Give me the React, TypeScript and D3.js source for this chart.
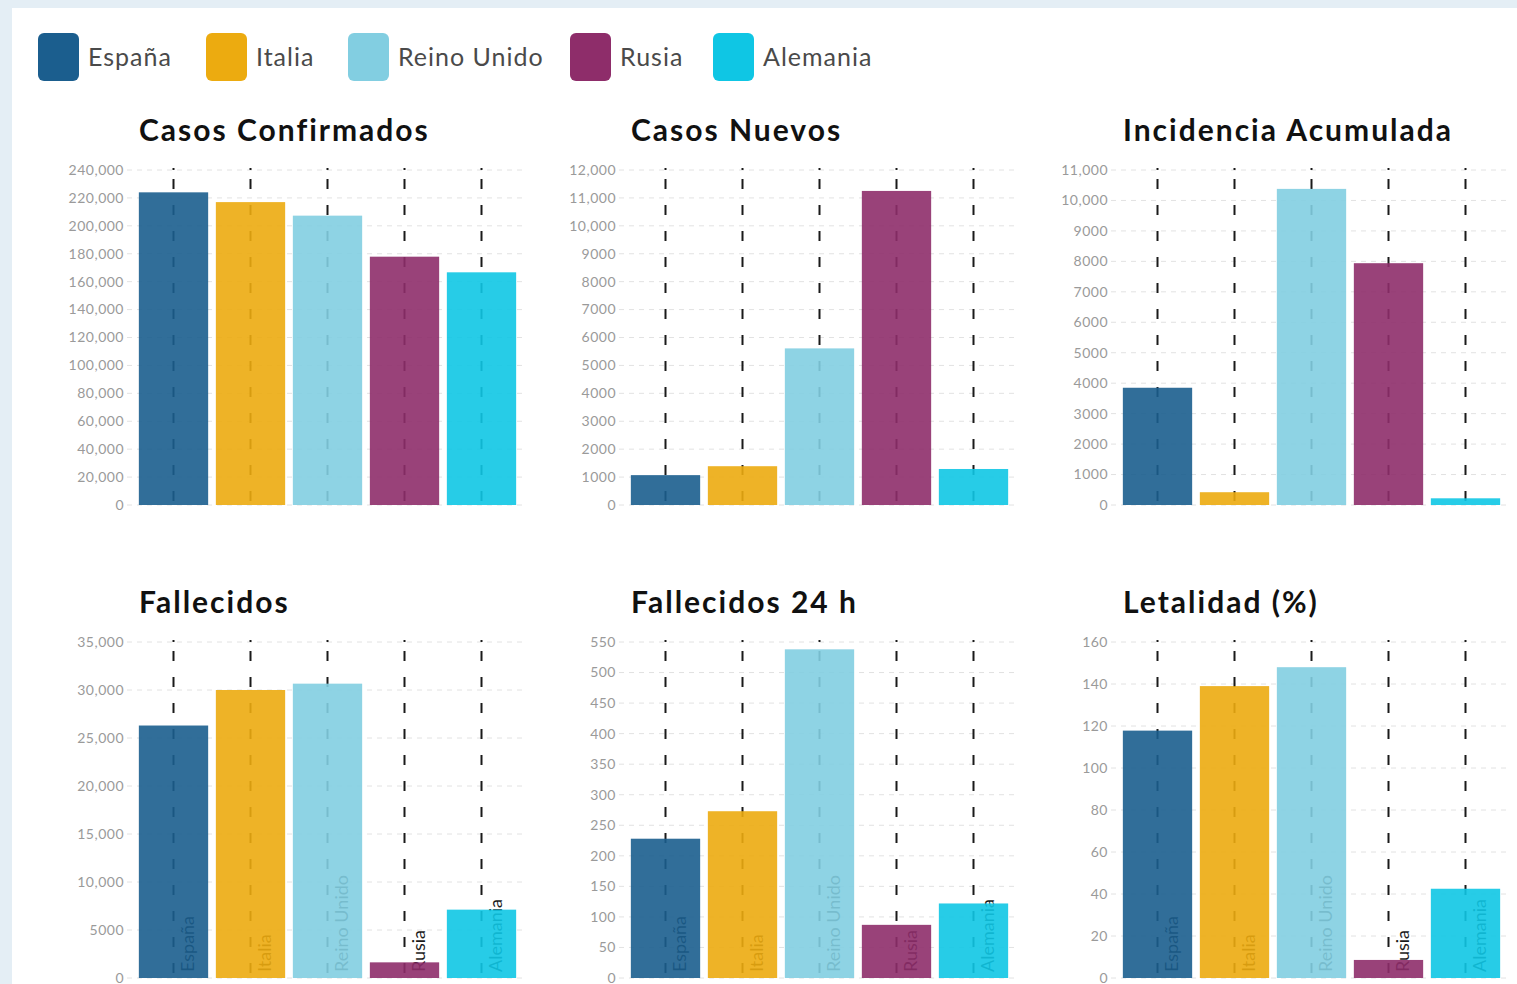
import React from "react";
import * as d3 from "d3";

const countries = ["España", "Italia", "Reino Unido", "Rusia", "Alemania"];
const colors = ["#1b5e8e", "#ecab10", "#82cee1", "#8e2d6a", "#0fc6e4"];

const titles = [
  "Casos Confirmados",
  "Casos Nuevos",
  "Incidencia Acumulada",
  "Fallecidos",
  "Fallecidos 24 h",
  "Letalidad (%)",
];

const casosConfirmados = [224000, 217000, 207300, 177900, 166700];
const casosNuevos = [1070, 1390, 5610, 11250, 1290];
const incidenciaAcumulada = [3850, 420, 10380, 7940, 220];
const fallecidos = [26300, 30000, 30660, 1630, 7120];
const fallecidos24h = [228, 273, 538, 87, 122];
const letalidad = [117.8, 139, 148, 8.6, 42.5];

const seriesList = [casosConfirmados, casosNuevos, incidenciaAcumulada, fallecidos, fallecidos24h, letalidad];
const axisMax = [240000, 12000, 11000, 35000, 550, 160];
const axisStep = [20000, 1000, 1000, 5000, 50, 20];

const W = 1517;
const H = 984;
const FONT = "Lato, 'Source Sans Pro', sans-serif";
const panelLeft = [135, 627, 1119];
const panelWidth = 385;
const rowTop = [170, 642];
const rowBottom = [505, 978];

// dot at the top, then regular dashes
const dashPattern = ["2", "9", ...Array(24).fill("10,16")].join(",");

const fmtTick = (v: number) => (v >= 10000 ? d3.format(",")(v) : String(v));

function Panel({ idx }: { idx: number }) {
  const row = Math.floor(idx / 3);
  const col = idx % 3;
  const x0 = panelLeft[col];
  const values = seriesList[idx];
  const x = d3
    .scaleBand<string>()
    .domain(countries)
    .range([x0, x0 + panelWidth])
    .paddingInner(0.1)
    .paddingOuter(0.05);
  const y = d3.scaleLinear().domain([0, axisMax[idx]]).range([rowBottom[row], rowTop[row]]);
  const ticks = d3.range(0, axisMax[idx] + axisStep[idx] / 2, axisStep[idx]);
  const bw = x.bandwidth();

  return (
    <g>
      <text
        x={x0 + 4}
        y={rowTop[row] - 29}
        fontFamily={FONT}
        fontWeight={700}
        fontSize={30}
        letterSpacing={2}
        fill="#111"
      >
        {titles[idx]}
      </text>
      {ticks.map((t) => (
        <g key={t}>
          <line
            x1={x0 - 8}
            x2={x0 + panelWidth + 3}
            y1={y(t)}
            y2={y(t)}
            stroke="#e2e2e2"
            strokeDasharray="5,5"
          />
          <text
            x={x0 - 11}
            y={y(t)}
            dy="0.35em"
            textAnchor="end"
            fontFamily={FONT}
            fontSize={14}
            letterSpacing={0.5}
            fill="#9a9a9a"
          >
            {fmtTick(t)}
          </text>
        </g>
      ))}
      {countries.map((c) => (
        <line
          key={"v" + c}
          x1={(x(c) || 0) + bw / 2}
          x2={(x(c) || 0) + bw / 2}
          y1={rowTop[row] - 2}
          y2={rowBottom[row]}
          stroke="#1a1a1a"
          strokeWidth={2}
          strokeDasharray={dashPattern}
        />
      ))}
      {row === 1 &&
        countries.map((c) => {
          const cx = (x(c) || 0) + bw / 2 + 20;
          const cy = rowBottom[row] - 6;
          return (
            <text
              key={"l" + c}
              transform={`translate(${cx},${cy}) rotate(-90)`}
              fontFamily={FONT}
              fontSize={18}
              fill="#1a1a1a"
            >
              {c}
            </text>
          );
        })}
      {countries.map((c, i) => (
        <rect
          key={"b" + c}
          x={x(c)}
          y={y(values[i])}
          width={bw}
          height={rowBottom[row] - y(values[i])}
          fill={colors[i]}
          fillOpacity={0.9}
        />
      ))}
    </g>
  );
}

function Legend() {
  const offsets = [38, 206, 348, 570, 713];
  return (
    <g>
      {countries.map((c, i) => (
        <g key={c} transform={`translate(${offsets[i]},33)`}>
          <rect width={41} height={48} rx={6} fill={colors[i]} />
          <text x={50} y={33} fontFamily={FONT} fontSize={25} letterSpacing={1} fill="#4a4a4a">
            {c}
          </text>
        </g>
      ))}
    </g>
  );
}

export default function App() {
  return (
    <svg
      width={W}
      height={H}
      style={{ position: "absolute", left: 0, top: 0, display: "block" }}
    >
      <rect width={W} height={H} fill="#e4eef5" />
      <rect x={12} y={8} width={W - 12} height={H - 8} fill="#ffffff" />
      <Legend />
      {titles.map((_, i) => (
        <Panel key={i} idx={i} />
      ))}
    </svg>
  );
}
